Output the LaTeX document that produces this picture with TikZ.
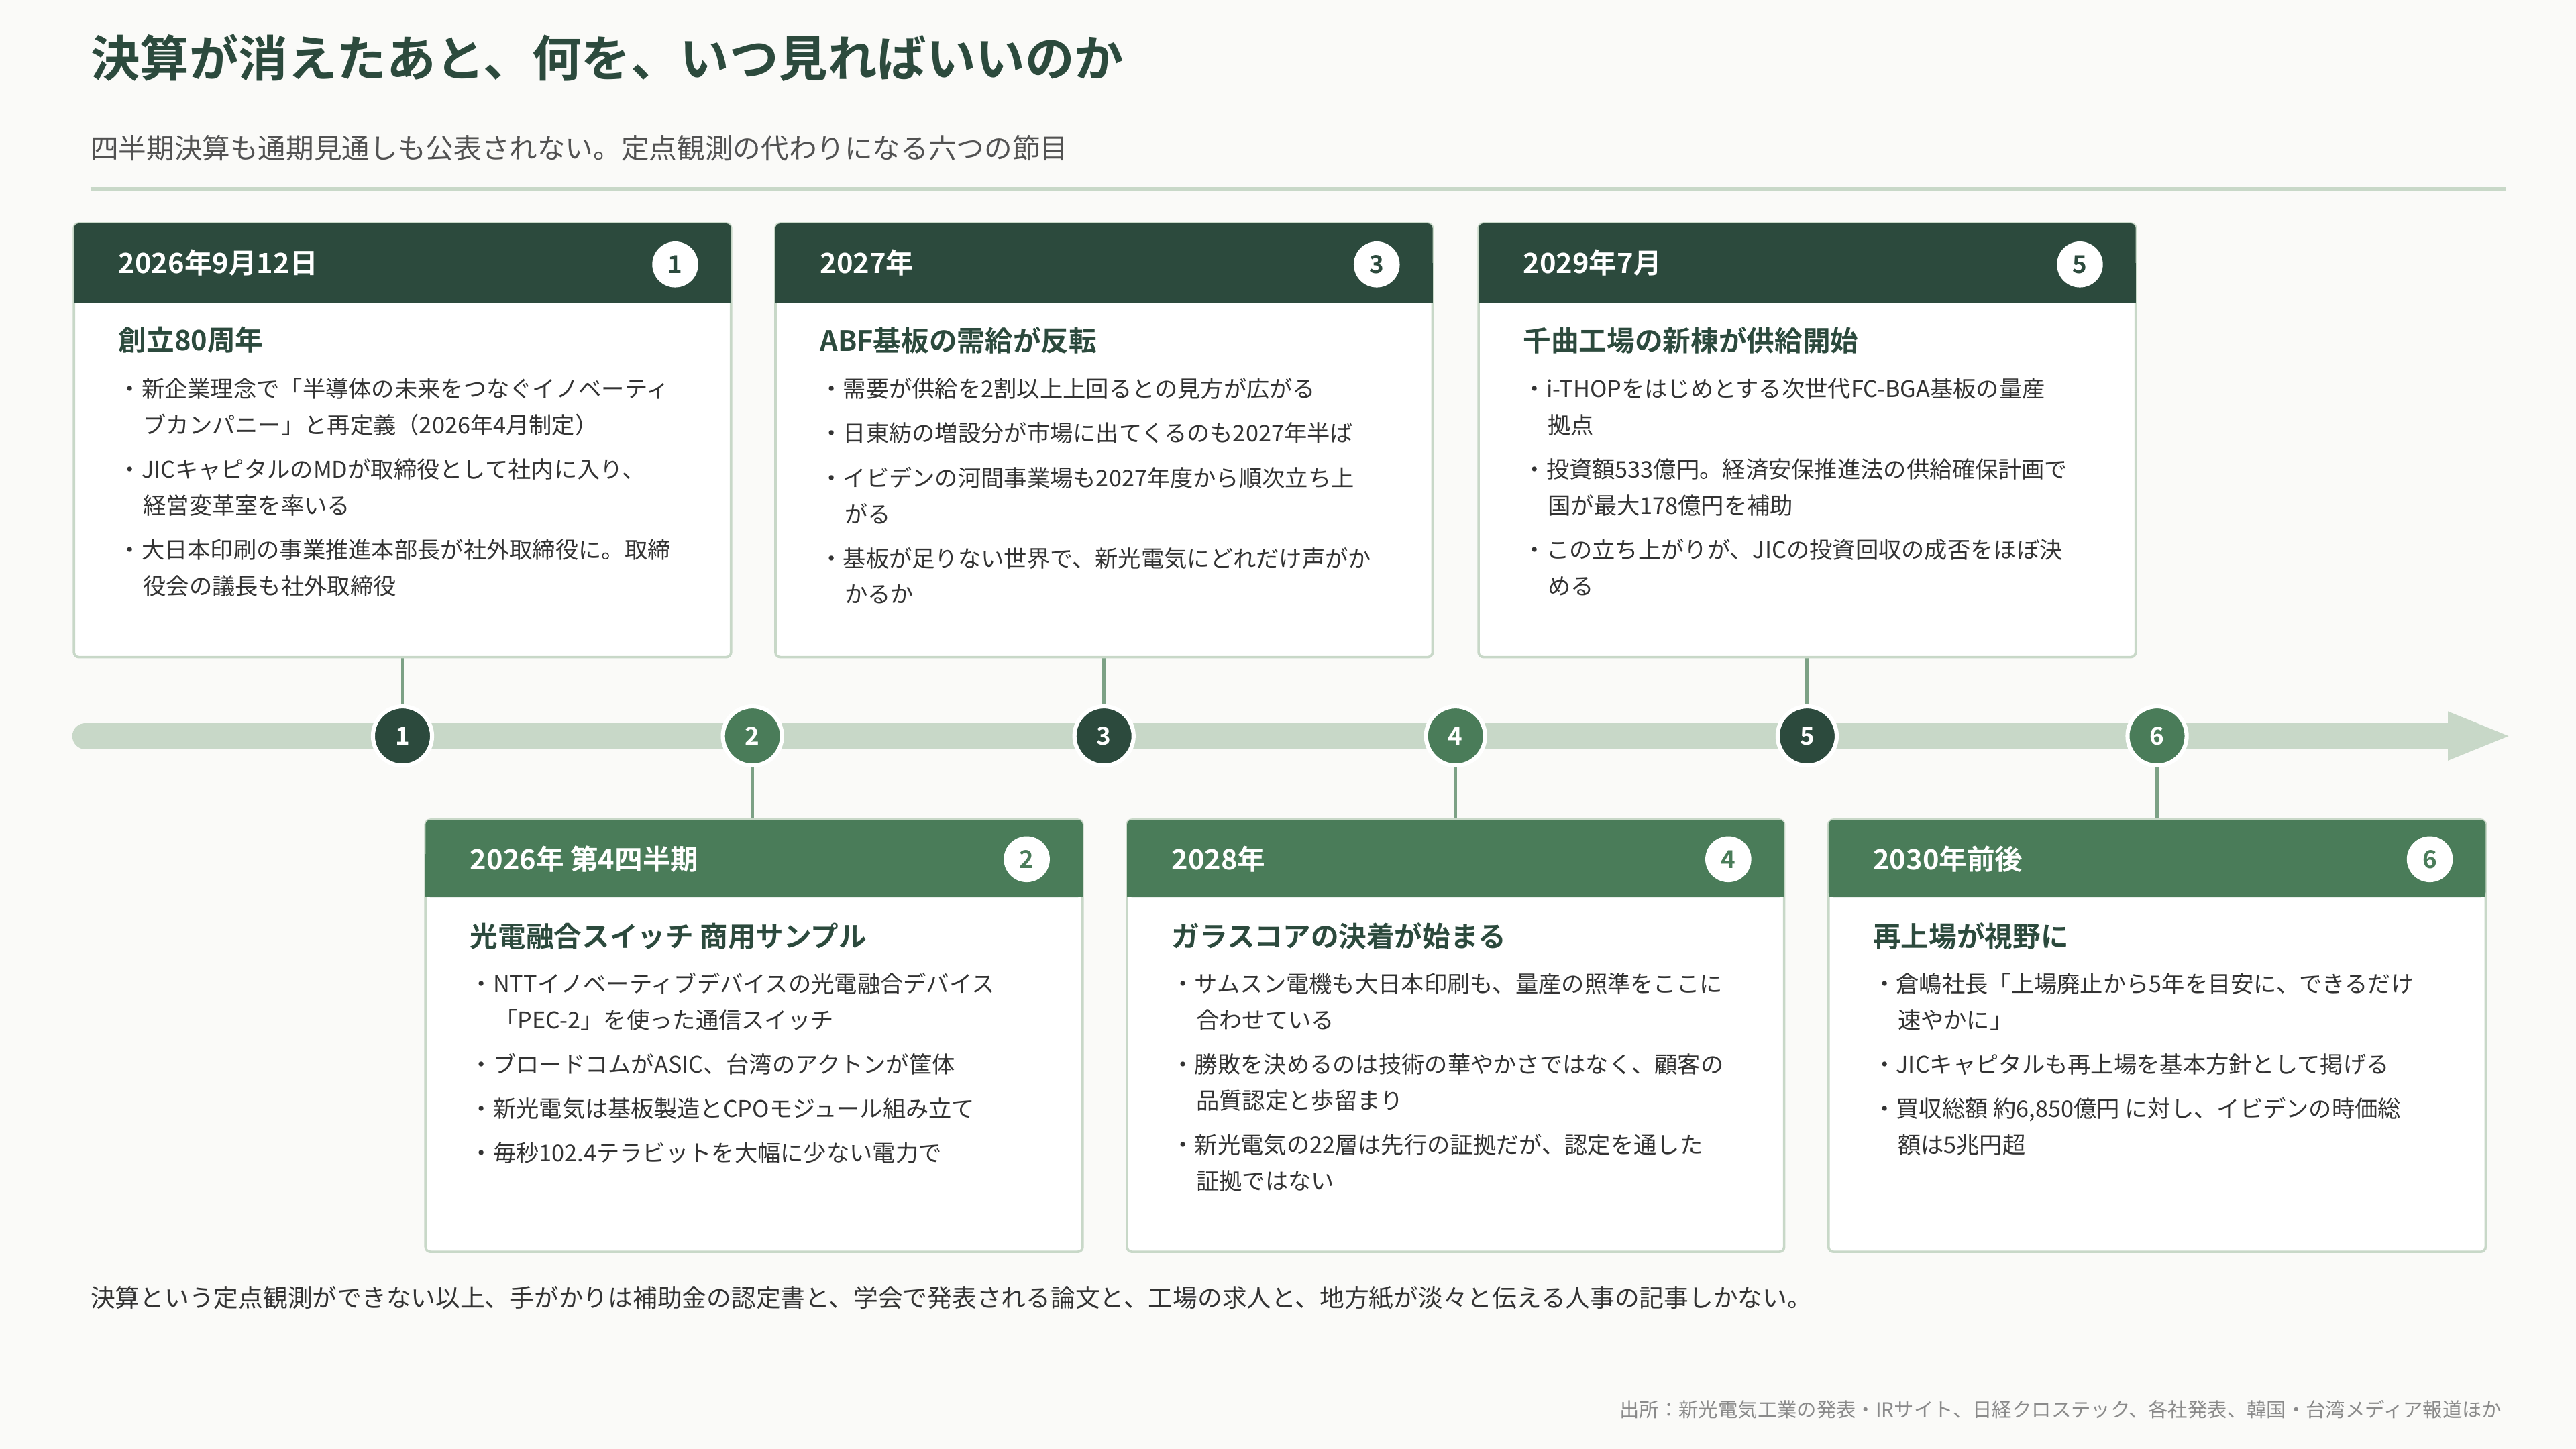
\documentclass[tikz,border=0pt]{standalone}
\usepackage{fontspec}
\setmainfont{Noto Sans CJK JP}
\newfontfamily\jpb{Noto Sans CJK JP Bold}
\definecolor{dk}{HTML}{2C4A3D}
\definecolor{md}{HTML}{4A7C59}
\definecolor{lt}{HTML}{C8D8C8}
\definecolor{tx}{HTML}{333333}
\definecolor{gr}{HTML}{8A8A8A}
\definecolor{bg}{HTML}{FAFAF8}
\newcommand{\bodyf}{\fontsize{14}{22}\selectfont}
\tikzset{
 card/.style={draw=lt,line width=1.5pt,rounded corners=3pt,fill=white},
 blt/.style={anchor=north west,align=left,font=\bodyf,text=tx,inner sep=0pt},
 ctitle/.style={anchor=west,font=\jpb\fontsize{17}{20}\selectfont,text=dk,inner sep=0pt},
 htext/.style={anchor=west,font=\jpb\fontsize{17}{20}\selectfont,text=white,inner sep=0pt},
 hnum/.style={circle,fill=white,minimum size=28pt,inner sep=0pt,font=\jpb\fontsize{15}{15}\selectfont},
 tmark/.style={circle,draw=white,line width=2.5pt,minimum size=36pt,inner sep=0pt,text=white,font=\jpb\fontsize{15}{15}\selectfont},
 conn/.style={draw=md!60!lt,line width=2pt}
}
\newcommand{\ind}{\hspace*{15pt}}
\begin{document}
\begin{tikzpicture}[x=1pt,y=-1pt]
\fill[bg] (0,0) rectangle (1568,882);
\useasboundingbox (0,0) rectangle (1568,882);
\node[anchor=west,font=\jpb\fontsize{30}{34}\selectfont,text=dk,inner sep=0pt] (title) at (55,35) {決算が消えたあと、何を、いつ見ればいいのか};
\node[anchor=west,font=\fontsize{17}{20}\selectfont,text=tx!85,inner sep=0pt] (sub) at (55,90) {四半期決算も通期見通しも公表されない。定点観測の代わりになる六つの節目};
\draw[lt,line width=2pt] (55,115) -- (1525,115);
% timeline
\draw[lt,line width=16pt,line cap=round] (52,448) -- (1495,448);
\fill[lt] (1490,433) -- (1527,448) -- (1490,463) -- cycle;
% markers
\foreach \i/\x/\c in {1/245/dk,2/458/md,3/672/dk,4/886/md,5/1100/dk,6/1313/md}{
 \node[tmark,fill=\c] (m\i) at (\x,448) {\i};
}
% connectors
\coordinate (t1) at (245,400); \coordinate (t3) at (672,400); \coordinate (t5) at (1100,400);
\coordinate (b2) at (458,499); \coordinate (b4) at (886,499); \coordinate (b6) at (1313,499);
\draw[conn] (t1) -- (m1); \draw[conn] (t3) -- (m3); \draw[conn] (t5) -- (m5);
\draw[conn] (m2) -- (b2); \draw[conn] (m4) -- (b4); \draw[conn] (m6) -- (b6);
% top cards
\foreach \x/\hd/\n in {45/{2026年9月12日}/1,472/{2027年}/3,900/{2029年7月}/5}{
 \draw[card] (\x,136) rectangle ++(400,264);
 \fill[dk,rounded corners=3pt] (\x,136) rectangle ++(400,48);
 \fill[dk] (\x,160) rectangle ++(400,24);
 \node[htext] (h\n) at (\x+27,160) {\hd};
 \node[hnum,text=dk] (n\n) at (\x+366,161) {\n};
}
\foreach \x/\hd/\n in {259/{2026年 第4四半期}/2,686/{2028年}/4,1113/{2030年前後}/6}{
 \draw[card] (\x,499) rectangle ++(400,263);
 \fill[md,rounded corners=3pt] (\x,499) rectangle ++(400,47);
 \fill[md] (\x,520) rectangle ++(400,26);
 \node[htext] (h\n) at (\x+27,523) {\hd};
 \node[hnum,text=md] (n\n) at (\x+366,523) {\n};
}
% card 1
\node[ctitle] (c1t) at (72,207) {創立80周年};
\node[blt] (c1a) at (72,230) {・新企業理念で「半導体の未来をつなぐイノベーティ\\\ind ブカンパニー」と再定義（2026年4月制定）};
\node[blt] (c1b) at (72,279) {・JICキャピタルのMDが取締役として社内に入り、\\\ind 経営変革室を率いる};
\node[blt] (c1c) at (72,328) {・大日本印刷の事業推進本部長が社外取締役に。取締\\\ind 役会の議長も社外取締役};
% card 3
\node[ctitle] (c3t) at (499,207) {ABF基板の需給が反転};
\node[blt] (c3a) at (499,230) {・需要が供給を2割以上上回るとの見方が広がる};
\node[blt] (c3b) at (499,257) {・日東紡の増設分が市場に出てくるのも2027年半ば};
\node[blt] (c3c) at (499,284) {・イビデンの河間事業場も2027年度から順次立ち上\\\ind がる};
\node[blt] (c3d) at (499,333) {・基板が足りない世界で、新光電気にどれだけ声がか\\\ind かるか};
% card 5
\node[ctitle] (c5t) at (927,207) {千曲工場の新棟が供給開始};
\node[blt] (c5a) at (927,230) {・i-THOPをはじめとする次世代FC-BGA基板の量産\\\ind 拠点};
\node[blt] (c5b) at (927,279) {・投資額533億円。経済安保推進法の供給確保計画で\\\ind 国が最大178億円を補助};
\node[blt] (c5c) at (927,328) {・この立ち上がりが、JICの投資回収の成否をほぼ決\\\ind める};
% card 2
\node[ctitle] (c2t) at (286,570) {光電融合スイッチ 商用サンプル};
\node[blt] (c2a) at (286,592) {・NTTイノベーティブデバイスの光電融合デバイス\\\ind 「PEC-2」を使った通信スイッチ};
\node[blt] (c2b) at (286,641) {・ブロードコムがASIC、台湾のアクトンが筐体};
\node[blt] (c2c) at (286,668) {・新光電気は基板製造とCPOモジュール組み立て};
\node[blt] (c2d) at (286,695) {・毎秒102.4テラビットを大幅に少ない電力で};
% card 4
\node[ctitle] (c4t) at (713,570) {ガラスコアの決着が始まる};
\node[blt] (c4a) at (713,592) {・サムスン電機も大日本印刷も、量産の照準をここに\\\ind 合わせている};
\node[blt] (c4b) at (713,641) {・勝敗を決めるのは技術の華やかさではなく、顧客の\\\ind 品質認定と歩留まり};
\node[blt] (c4c) at (713,690) {・新光電気の22層は先行の証拠だが、認定を通した\\\ind 証拠ではない};
% card 6
\node[ctitle] (c6t) at (1140,570) {再上場が視野に};
\node[blt] (c6a) at (1140,592) {・倉嶋社長「上場廃止から5年を目安に、できるだけ\\\ind 速やかに」};
\node[blt] (c6b) at (1140,641) {・JICキャピタルも再上場を基本方針として掲げる};
\node[blt] (c6c) at (1140,668) {・買収総額 約6,850億円 に対し、イビデンの時価総\\\ind 額は5兆円超};
% footer
\node[anchor=west,font=\fontsize{15}{18}\selectfont,text=tx,inner sep=0pt] (foot) at (55,790) {決算という定点観測ができない以上、手がかりは補助金の認定書と、学会で発表される論文と、工場の求人と、地方紙が淡々と伝える人事の記事しかない。};
\node[anchor=east,font=\fontsize{12}{14}\selectfont,text=gr,inner sep=0pt] (src) at (1523,858) {出所：新光電気工業の発表・IRサイト、日経クロステック、各社発表、韓国・台湾メディア報道ほか};
\end{tikzpicture}
\end{document}
